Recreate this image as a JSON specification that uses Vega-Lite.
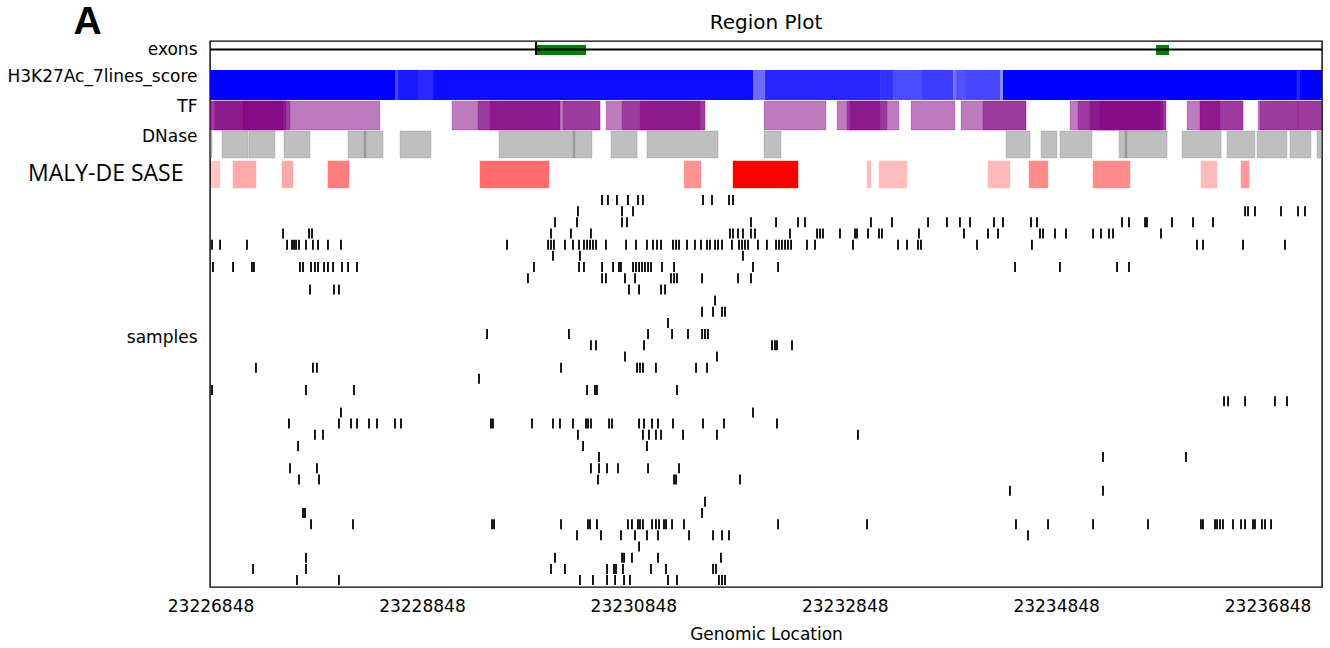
{
  "$schema": "https://vega.github.io/schema/vega-lite/v6.json",
  "width": 1112,
  "height": 546,
  "autosize": "none",
  "padding": {"left": 210, "top": 41, "right": 8, "bottom": 61},
  "background": "white",
  "config": {"view": {"stroke": "black", "strokeWidth": 1.4}, "font": "DejaVu Sans"},
  "title": {"text": "Region Plot", "fontSize": 20, "font": "DejaVu Sans", "fontWeight": "normal", "color": "black", "frame": "group", "anchor": "middle", "offset": -31},
  "datasets": {
    "gene": [{"feature": "gene", "pos": 23229927}],
    "exons": [{"pos": 23229927, "end": 23230400}, {"pos": 23235793, "end": 23235916}],
    "h3k27ac": [
      {"pos": 23226800, "end": 23228593, "score": 1.0},
      {"pos": 23228593, "end": 23228622, "score": 0.72},
      {"pos": 23228622, "end": 23228811, "score": 0.9},
      {"pos": 23228811, "end": 23228953, "score": 0.84},
      {"pos": 23228953, "end": 23231980, "score": 0.95},
      {"pos": 23231980, "end": 23232094, "score": 0.58},
      {"pos": 23232094, "end": 23233182, "score": 0.85},
      {"pos": 23233182, "end": 23233305, "score": 0.8},
      {"pos": 23233305, "end": 23233579, "score": 0.7},
      {"pos": 23233579, "end": 23233872, "score": 0.76},
      {"pos": 23233872, "end": 23233901, "score": 0.55},
      {"pos": 23233901, "end": 23233986, "score": 0.68},
      {"pos": 23233986, "end": 23234317, "score": 0.72},
      {"pos": 23234317, "end": 23234345, "score": 0.45},
      {"pos": 23234345, "end": 23237126, "score": 1.0},
      {"pos": 23237126, "end": 23237155, "score": 0.85},
      {"pos": 23237155, "end": 23237400, "score": 1.0}
    ],
    "tf": [
      {"pos": 23226796, "end": 23228451}, {"pos": 23226796, "end": 23227600}, {"pos": 23226890, "end": 23227562}, {"pos": 23227155, "end": 23227534},
      {"pos": 23229132, "end": 23230533}, {"pos": 23229378, "end": 23230154}, {"pos": 23229492, "end": 23230154}, {"pos": 23230183, "end": 23230533},
      {"pos": 23230589, "end": 23231526}, {"pos": 23230741, "end": 23231526}, {"pos": 23230911, "end": 23231479},
      {"pos": 23232084, "end": 23232671},
      {"pos": 23232775, "end": 23233361}, {"pos": 23232869, "end": 23233248}, {"pos": 23232898, "end": 23233182},
      {"pos": 23233475, "end": 23233891},
      {"pos": 23233948, "end": 23234563}, {"pos": 23234156, "end": 23234563},
      {"pos": 23234979, "end": 23235887}, {"pos": 23235055, "end": 23235887}, {"pos": 23235168, "end": 23235859}, {"pos": 23235263, "end": 23235830},
      {"pos": 23236086, "end": 23236616}, {"pos": 23236209, "end": 23236616}, {"pos": 23236209, "end": 23236398},
      {"pos": 23236758, "end": 23237136}, {"pos": 23236776, "end": 23237400}, {"pos": 23237136, "end": 23237400}
    ],
    "dnase": [
      {"pos": 23226824, "end": 23226862}, {"pos": 23226957, "end": 23227203}, {"pos": 23227212, "end": 23227458}, {"pos": 23227543, "end": 23227789},
      {"pos": 23228149, "end": 23228319}, {"pos": 23228300, "end": 23228480}, {"pos": 23228641, "end": 23228934},
      {"pos": 23229577, "end": 23230296}, {"pos": 23230277, "end": 23230457}, {"pos": 23230637, "end": 23230883}, {"pos": 23230977, "end": 23231649},
      {"pos": 23232084, "end": 23232245}, {"pos": 23234374, "end": 23234601}, {"pos": 23234705, "end": 23234856}, {"pos": 23234884, "end": 23235187},
      {"pos": 23235443, "end": 23235518}, {"pos": 23235499, "end": 23235897}, {"pos": 23236039, "end": 23236408}, {"pos": 23236464, "end": 23236729},
      {"pos": 23236748, "end": 23237032}, {"pos": 23237060, "end": 23237259}, {"pos": 23237316, "end": 23237400}
    ],
    "maly": [
      {"pos": 23226852, "end": 23226938, "score": 0.22},
      {"pos": 23227061, "end": 23227278, "score": 0.33},
      {"pos": 23227524, "end": 23227628, "score": 0.33},
      {"pos": 23227959, "end": 23228158, "score": 0.5},
      {"pos": 23229397, "end": 23230050, "score": 0.57},
      {"pos": 23231327, "end": 23231488, "score": 0.42},
      {"pos": 23231791, "end": 23232406, "score": 1.0},
      {"pos": 23233059, "end": 23233096, "score": 0.27},
      {"pos": 23233172, "end": 23233437, "score": 0.25},
      {"pos": 23234203, "end": 23234411, "score": 0.27},
      {"pos": 23234591, "end": 23234771, "score": 0.45},
      {"pos": 23235197, "end": 23235547, "score": 0.45},
      {"pos": 23236218, "end": 23236370, "score": 0.27},
      {"pos": 23236597, "end": 23236672, "score": 0.4}
    ],
    "samples": [
      {"s":0,"pos":23230552},{"s":0,"pos":23230608},{"s":0,"pos":23230693},{"s":0,"pos":23230797},{"s":0,"pos":23230892},{"s":0,"pos":23230939},{"s":0,"pos":23231507},{"s":0,"pos":23231592},{"s":0,"pos":23231753},{"s":0,"pos":23231791},
      {"s":1,"pos":23230324},{"s":1,"pos":23230741},{"s":1,"pos":23230845},{"s":1,"pos":23236635},{"s":1,"pos":23236663},{"s":1,"pos":23236729},{"s":1,"pos":23236975},{"s":1,"pos":23237136},{"s":1,"pos":23237202},
      {"s":2,"pos":23230107},{"s":2,"pos":23230315},{"s":2,"pos":23230741},{"s":2,"pos":23230788},{"s":2,"pos":23231961},{"s":2,"pos":23232198},{"s":2,"pos":23232406},{"s":2,"pos":23232472},{"s":2,"pos":23233096},{"s":2,"pos":23233295},{"s":2,"pos":23233636},{"s":2,"pos":23233815},{"s":2,"pos":23233938},{"s":2,"pos":23234033},{"s":2,"pos":23234260},{"s":2,"pos":23234345},{"s":2,"pos":23234610},{"s":2,"pos":23234667},{"s":2,"pos":23235471},{"s":2,"pos":23235537},{"s":2,"pos":23235689},{"s":2,"pos":23235707},{"s":2,"pos":23235944},{"s":2,"pos":23236143},{"s":2,"pos":23236332},
      {"s":3,"pos":23227534},{"s":3,"pos":23227780},{"s":3,"pos":23227808},{"s":3,"pos":23230069},{"s":3,"pos":23230258},{"s":3,"pos":23230447},{"s":3,"pos":23231762},{"s":3,"pos":23231791},{"s":3,"pos":23231838},{"s":3,"pos":23231885},{"s":3,"pos":23231961},{"s":3,"pos":23231999},{"s":3,"pos":23232330},{"s":3,"pos":23232586},{"s":3,"pos":23232614},{"s":3,"pos":23232642},{"s":3,"pos":23232803},{"s":3,"pos":23232945},{"s":3,"pos":23232964},{"s":3,"pos":23233068},{"s":3,"pos":23233172},{"s":3,"pos":23233200},{"s":3,"pos":23233550},{"s":3,"pos":23233976},{"s":3,"pos":23234203},{"s":3,"pos":23234298},{"s":3,"pos":23234695},{"s":3,"pos":23234724},{"s":3,"pos":23234837},{"s":3,"pos":23234941},{"s":3,"pos":23235197},{"s":3,"pos":23235272},{"s":3,"pos":23235348},{"s":3,"pos":23235386},{"s":3,"pos":23235840},
      {"s":4,"pos":23226862},{"s":4,"pos":23226938},{"s":4,"pos":23227193},{"s":4,"pos":23227572},{"s":4,"pos":23227619},{"s":4,"pos":23227638},{"s":4,"pos":23227657},{"s":4,"pos":23227685},{"s":4,"pos":23227751},{"s":4,"pos":23227817},{"s":4,"pos":23227865},{"s":4,"pos":23227959},{"s":4,"pos":23228082},{"s":4,"pos":23229653},{"s":4,"pos":23230041},{"s":4,"pos":23230069},{"s":4,"pos":23230097},{"s":4,"pos":23230201},{"s":4,"pos":23230277},{"s":4,"pos":23230334},{"s":4,"pos":23230381},{"s":4,"pos":23230410},{"s":4,"pos":23230438},{"s":4,"pos":23230466},{"s":4,"pos":23230495},{"s":4,"pos":23230589},{"s":4,"pos":23230779},{"s":4,"pos":23230873},{"s":4,"pos":23230977},{"s":4,"pos":23231034},{"s":4,"pos":23231072},{"s":4,"pos":23231110},{"s":4,"pos":23231223},{"s":4,"pos":23231252},{"s":4,"pos":23231280},{"s":4,"pos":23231356},{"s":4,"pos":23231431},{"s":4,"pos":23231488},{"s":4,"pos":23231545},{"s":4,"pos":23231573},{"s":4,"pos":23231621},{"s":4,"pos":23231649},{"s":4,"pos":23231687},{"s":4,"pos":23231781},{"s":4,"pos":23231848},{"s":4,"pos":23231876},{"s":4,"pos":23231904},{"s":4,"pos":23231933},{"s":4,"pos":23232027},{"s":4,"pos":23232112},{"s":4,"pos":23232198},{"s":4,"pos":23232226},{"s":4,"pos":23232254},{"s":4,"pos":23232283},{"s":4,"pos":23232311},{"s":4,"pos":23232340},{"s":4,"pos":23232491},{"s":4,"pos":23232567},{"s":4,"pos":23232926},{"s":4,"pos":23233352},{"s":4,"pos":23233437},{"s":4,"pos":23233541},{"s":4,"pos":23233569},{"s":4,"pos":23234099},{"s":4,"pos":23234619},{"s":4,"pos":23236180},{"s":4,"pos":23236237},{"s":4,"pos":23236616},{"s":4,"pos":23237013},
      {"s":5,"pos":23230088},{"s":5,"pos":23230343},{"s":5,"pos":23231885},
      {"s":6,"pos":23226871},{"s":6,"pos":23227061},{"s":6,"pos":23227240},{"s":6,"pos":23227259},{"s":6,"pos":23227694},{"s":6,"pos":23227723},{"s":6,"pos":23227799},{"s":6,"pos":23227836},{"s":6,"pos":23227865},{"s":6,"pos":23227922},{"s":6,"pos":23227959},{"s":6,"pos":23228007},{"s":6,"pos":23228092},{"s":6,"pos":23228149},{"s":6,"pos":23228234},{"s":6,"pos":23229908},{"s":6,"pos":23230334},{"s":6,"pos":23230381},{"s":6,"pos":23230552},{"s":6,"pos":23230656},{"s":6,"pos":23230712},{"s":6,"pos":23230731},{"s":6,"pos":23230845},{"s":6,"pos":23230873},{"s":6,"pos":23230902},{"s":6,"pos":23230930},{"s":6,"pos":23230958},{"s":6,"pos":23230987},{"s":6,"pos":23231015},{"s":6,"pos":23231119},{"s":6,"pos":23231233},{"s":6,"pos":23231980},{"s":6,"pos":23232217},{"s":6,"pos":23234459},{"s":6,"pos":23234884},{"s":6,"pos":23235424},{"s":6,"pos":23235537},
      {"s":7,"pos":23229851},{"s":7,"pos":23230552},{"s":7,"pos":23230589},{"s":7,"pos":23230769},{"s":7,"pos":23230864},{"s":7,"pos":23231204},{"s":7,"pos":23231233},{"s":7,"pos":23231261},{"s":7,"pos":23231498},{"s":7,"pos":23231838},{"s":7,"pos":23231961},
      {"s":8,"pos":23227789},{"s":8,"pos":23228016},{"s":8,"pos":23228063},{"s":8,"pos":23230807},{"s":8,"pos":23230902},{"s":8,"pos":23231110},{"s":8,"pos":23231148},
      {"s":9,"pos":23231621},
      {"s":10,"pos":23231498},{"s":10,"pos":23231602},{"s":10,"pos":23231687},{"s":10,"pos":23231715},
      {"s":11,"pos":23231176},
      {"s":12,"pos":23229464},{"s":12,"pos":23230239},{"s":12,"pos":23230987},{"s":12,"pos":23231214},{"s":12,"pos":23231365},{"s":12,"pos":23231498},{"s":12,"pos":23231526},{"s":12,"pos":23231554},
      {"s":13,"pos":23230447},{"s":13,"pos":23230495},{"s":13,"pos":23230949},{"s":13,"pos":23232160},{"s":13,"pos":23232188},{"s":13,"pos":23232207},{"s":13,"pos":23232349},
      {"s":14,"pos":23230769},{"s":14,"pos":23231639},
      {"s":15,"pos":23227278},{"s":15,"pos":23227817},{"s":15,"pos":23227855},{"s":15,"pos":23230164},{"s":15,"pos":23230883},{"s":15,"pos":23230911},{"s":15,"pos":23230939},{"s":15,"pos":23231062},{"s":15,"pos":23231441},{"s":15,"pos":23231545},
      {"s":16,"pos":23229388},
      {"s":17,"pos":23226862},{"s":17,"pos":23227751},{"s":17,"pos":23228205},{"s":17,"pos":23230410},{"s":17,"pos":23230485},{"s":17,"pos":23230504},{"s":17,"pos":23231261},
      {"s":18,"pos":23236436},{"s":18,"pos":23236474},{"s":18,"pos":23236635},{"s":18,"pos":23236918},{"s":18,"pos":23237032},
      {"s":19,"pos":23228082},{"s":19,"pos":23231980},
      {"s":20,"pos":23227590},{"s":20,"pos":23228063},{"s":20,"pos":23228177},{"s":20,"pos":23228234},{"s":20,"pos":23228347},{"s":20,"pos":23228423},{"s":20,"pos":23228593},{"s":20,"pos":23228650},{"s":20,"pos":23229501},{"s":20,"pos":23229520},{"s":20,"pos":23229889},{"s":20,"pos":23230088},{"s":20,"pos":23230154},{"s":20,"pos":23230277},{"s":20,"pos":23230400},{"s":20,"pos":23230419},{"s":20,"pos":23230447},{"s":20,"pos":23230618},{"s":20,"pos":23230646},{"s":20,"pos":23230902},{"s":20,"pos":23230949},{"s":20,"pos":23231025},{"s":20,"pos":23231081},{"s":20,"pos":23231223},{"s":20,"pos":23231507},{"s":20,"pos":23231706},{"s":20,"pos":23232207},
      {"s":21,"pos":23227836},{"s":21,"pos":23227912},{"s":21,"pos":23230324},{"s":21,"pos":23230939},{"s":21,"pos":23230996},{"s":21,"pos":23231062},{"s":21,"pos":23231110},{"s":21,"pos":23231318},{"s":21,"pos":23231639},{"s":21,"pos":23232973},
      {"s":22,"pos":23227676},{"s":22,"pos":23230372},{"s":22,"pos":23230977},
      {"s":23,"pos":23230523},{"s":23,"pos":23235291},{"s":23,"pos":23236076},
      {"s":24,"pos":23227600},{"s":24,"pos":23227855},{"s":24,"pos":23230447},{"s":24,"pos":23230523},{"s":24,"pos":23230599},{"s":24,"pos":23230703},{"s":24,"pos":23230987},{"s":24,"pos":23231280},
      {"s":25,"pos":23227685},{"s":25,"pos":23227874},{"s":25,"pos":23230514},{"s":25,"pos":23231233},{"s":25,"pos":23231252},{"s":25,"pos":23231857},
      {"s":26,"pos":23234411},{"s":26,"pos":23235291},
      {"s":27,"pos":23231526},
      {"s":28,"pos":23227723},{"s":28,"pos":23227742},{"s":28,"pos":23231498},
      {"s":29,"pos":23227799},{"s":29,"pos":23228196},{"s":29,"pos":23229511},{"s":29,"pos":23229530},{"s":29,"pos":23230164},{"s":29,"pos":23230419},{"s":29,"pos":23230438},{"s":29,"pos":23230504},{"s":29,"pos":23230797},{"s":29,"pos":23230835},{"s":29,"pos":23230892},{"s":29,"pos":23230911},{"s":29,"pos":23230939},{"s":29,"pos":23231025},{"s":29,"pos":23231062},{"s":29,"pos":23231091},{"s":29,"pos":23231138},{"s":29,"pos":23231157},{"s":29,"pos":23231214},{"s":29,"pos":23231327},{"s":29,"pos":23232217},{"s":29,"pos":23233059},{"s":29,"pos":23234468},{"s":29,"pos":23234771},{"s":29,"pos":23235197},{"s":29,"pos":23235717},{"s":29,"pos":23236218},{"s":29,"pos":23236237},{"s":29,"pos":23236351},{"s":29,"pos":23236370},{"s":29,"pos":23236398},{"s":29,"pos":23236426},{"s":29,"pos":23236521},{"s":29,"pos":23236597},{"s":29,"pos":23236635},{"s":29,"pos":23236710},{"s":29,"pos":23236729},{"s":29,"pos":23236795},{"s":29,"pos":23236824},{"s":29,"pos":23236881},
      {"s":30,"pos":23230315},{"s":30,"pos":23230542},{"s":30,"pos":23230731},{"s":30,"pos":23230864},{"s":30,"pos":23230977},{"s":30,"pos":23231081},{"s":30,"pos":23231375},{"s":30,"pos":23231602},{"s":30,"pos":23231687},{"s":30,"pos":23231753},{"s":30,"pos":23234582},
      {"s":31,"pos":23230902},
      {"s":32,"pos":23227751},{"s":32,"pos":23230107},{"s":32,"pos":23230741},{"s":32,"pos":23230760},{"s":32,"pos":23230835},{"s":32,"pos":23231081},{"s":32,"pos":23231677},
      {"s":33,"pos":23227250},{"s":33,"pos":23227751},{"s":33,"pos":23230069},{"s":33,"pos":23230201},{"s":33,"pos":23230599},{"s":33,"pos":23230665},{"s":33,"pos":23230684},{"s":33,"pos":23230750},{"s":33,"pos":23231015},{"s":33,"pos":23231157},{"s":33,"pos":23231602},{"s":33,"pos":23231630},
      {"s":34,"pos":23227666},{"s":34,"pos":23228063},{"s":34,"pos":23230343},{"s":34,"pos":23230466},{"s":34,"pos":23230599},{"s":34,"pos":23230675},{"s":34,"pos":23230760},{"s":34,"pos":23230816},{"s":34,"pos":23231176},{"s":34,"pos":23231261},{"s":34,"pos":23231658},{"s":34,"pos":23231687},{"s":34,"pos":23231715}
    ]
  },
  "encoding": {
    "x": {"type": "quantitative", "scale": {"domain": [23226843, 23237363], "nice": false, "zero": false},
      "axis": {"values": [23226848, 23228848, 23230848, 23232848, 23234848, 23236848], "format": "d", "ticks": false, "domain": false, "grid": false, "labelFont": "DejaVu Sans", "labelFontSize": 17, "labelColor": "black", "labelPadding": 11, "labelFlush": false, "labelOverlap": false, "title": "Genomic Location", "titleFont": "DejaVu Sans", "titleFontSize": 17, "titleFontWeight": "normal", "titleColor": "black", "titlePadding": 12}}
  },
  "layer": [
    {
      "data": {"name": "samples"},
      "mark": {"type": "tick", "orient": "vertical", "size": 10, "thickness": 1.8, "color": "black", "opacity": 1},
      "encoding": {
        "x": {"field": "pos", "type": "quantitative"},
        "y": {"field": "s", "type": "quantitative", "scale": {"domain": [-14.22, 34.62], "nice": false, "zero": false, "reverse": true},
          "axis": {"values": [-13.42, -11, -8.32, -5.64, -2.33, 12.34],
            "labelExpr": "datum.value < -13 ? 'exons' : datum.value < -10 ? 'H3K27Ac_7lines_score' : datum.value < -7 ? 'TF' : datum.value < -4 ? 'DNase' : datum.value < 0 ? 'MALY-DE SASE' : 'samples'",
            "ticks": false, "domain": false, "grid": false, "labelLimit": 400,
            "labelFont": {"condition": {"test": "datum.value > -3 && datum.value < -1", "value": "Open Sans"}, "value": "DejaVu Sans"},
            "labelFontSize": {"condition": {"test": "datum.value > -3 && datum.value < -1", "value": 23}, "value": 17},
            "labelPadding": {"condition": {"test": "datum.value > -3 && datum.value < -1", "value": 27}, "value": 13},
            "labelColor": "black",
            "title": "A", "titleAngle": 0, "titleX": -123, "titleY": -8, "titleAlign": "center", "titleBaseline": "alphabetic", "titleFont": "Liberation Sans", "titleFontSize": 39, "titleFontWeight": "bold", "titleColor": "black"}}
      }
    },
    {
      "data": {"name": "exons"},
      "mark": {"type": "rect", "color": "#008000", "clip": true},
      "encoding": {
        "x": {"field": "pos", "type": "quantitative"},
        "x2": {"field": "end"},
        "y": {"datum": -13.86, "type": "quantitative"},
        "y2": {"datum": -12.97}
      }
    },
    {
      "data": {"name": "gene"},
      "mark": {"type": "rule", "color": "black", "strokeWidth": 2.2},
      "encoding": {
        "y": {"datum": -13.46, "type": "quantitative"}
      }
    },
    {
      "data": {"name": "gene"},
      "mark": {"type": "rule", "color": "black", "strokeWidth": 2},
      "encoding": {
        "x": {"field": "pos", "type": "quantitative"},
        "y": {"datum": -14.13, "type": "quantitative"},
        "y2": {"datum": -12.97}
      }
    },
    {
      "data": {"name": "h3k27ac"},
      "mark": {"type": "rect", "color": "#0000ff", "clip": true},
      "encoding": {
        "x": {"field": "pos", "type": "quantitative"},
        "x2": {"field": "end"},
        "y": {"datum": -11.63, "type": "quantitative"},
        "y2": {"datum": -8.94},
        "opacity": {"field": "score", "type": "quantitative", "scale": null}
      }
    },
    {
      "data": {"name": "tf"},
      "mark": {"type": "rect", "fill": "#800080", "fillOpacity": 0.52, "stroke": "#800080", "strokeOpacity": 0.2, "strokeWidth": 1, "clip": true},
      "encoding": {
        "x": {"field": "pos", "type": "quantitative"},
        "x2": {"field": "end"},
        "y": {"datum": -8.855, "type": "quantitative"},
        "y2": {"datum": -6.26}
      }
    },
    {
      "data": {"name": "dnase"},
      "mark": {"type": "rect", "fill": "#808080", "fillOpacity": 0.5, "stroke": "#808080", "strokeOpacity": 0.3, "strokeWidth": 1, "clip": true},
      "encoding": {
        "x": {"field": "pos", "type": "quantitative"},
        "x2": {"field": "end"},
        "y": {"datum": -6.17, "type": "quantitative"},
        "y2": {"datum": -3.76}
      }
    },
    {
      "data": {"name": "maly"},
      "mark": {"type": "rect", "fill": "#ff0000", "stroke": "#ff0000", "strokeOpacity": 0.4, "strokeWidth": 1, "clip": true},
      "encoding": {
        "x": {"field": "pos", "type": "quantitative"},
        "x2": {"field": "end"},
        "y": {"datum": -3.49, "type": "quantitative"},
        "y2": {"datum": -1.07},
        "opacity": {"field": "score", "type": "quantitative", "scale": null}
      }
    }
  ]
}
